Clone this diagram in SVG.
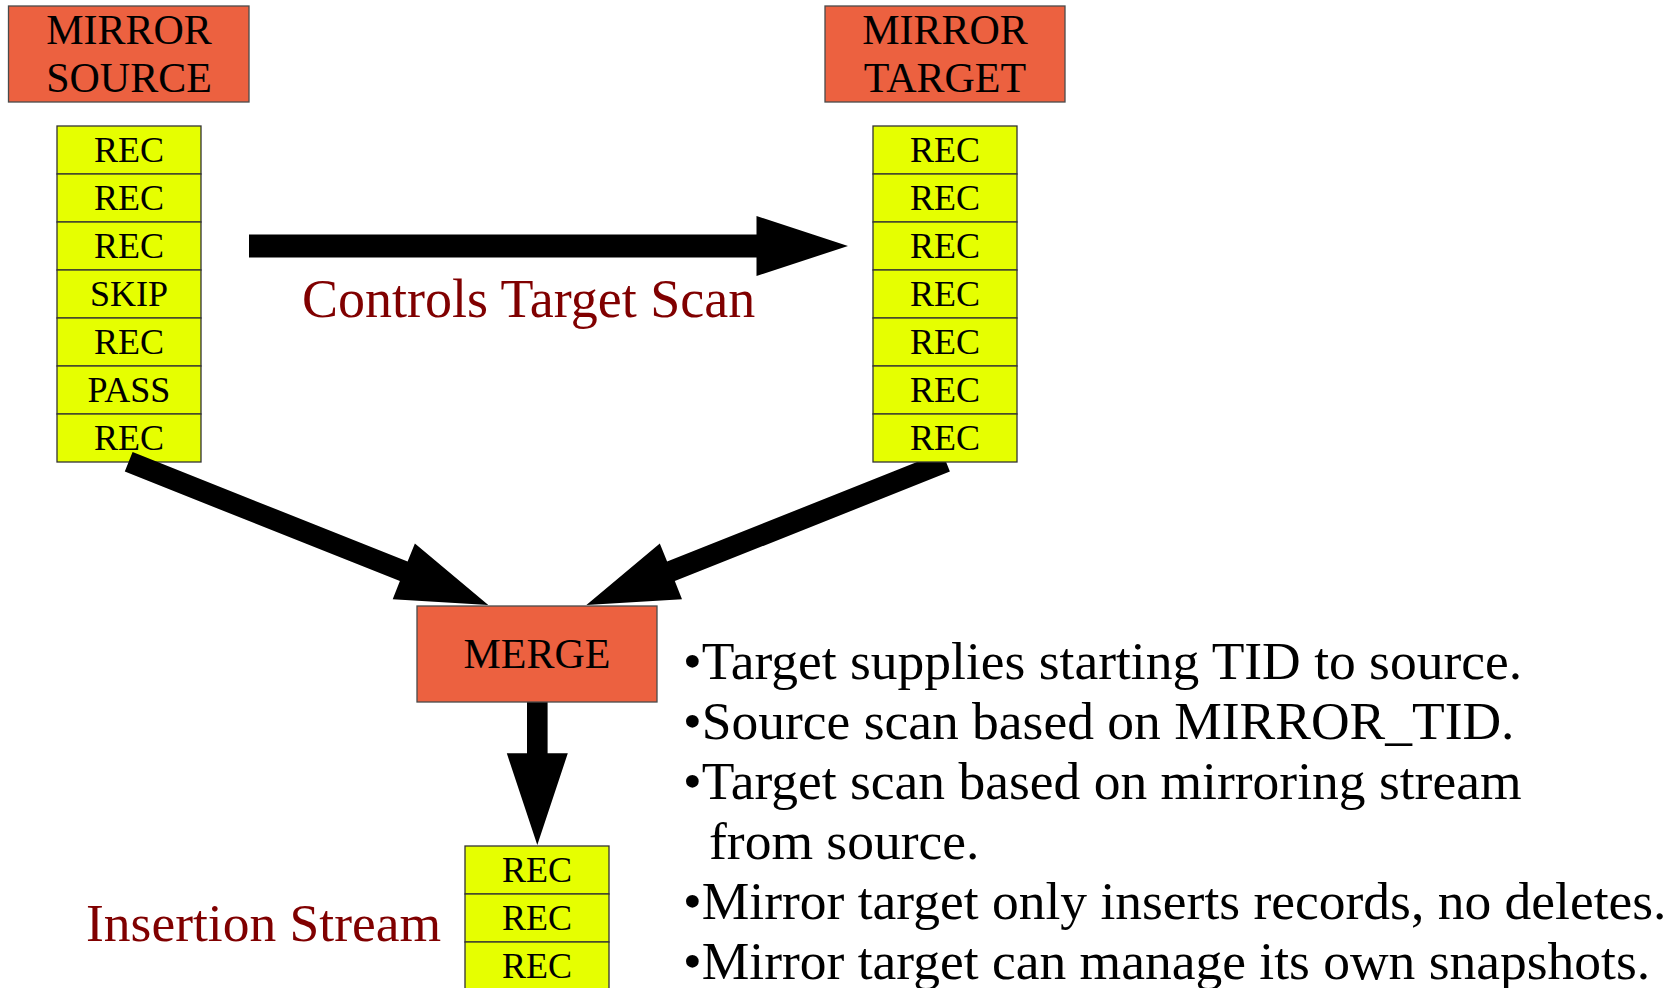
<svg xmlns="http://www.w3.org/2000/svg" width="1679" height="988" viewBox="0 0 1679 988">
  <style>
    .box { fill: #EC6140; stroke: #4a4a4a; stroke-width: 1.3; }
    .cell { fill: #E6FF00; stroke: #333; stroke-width: 1.3; }
    .t { font-family: "Liberation Serif", "Times New Roman", serif; fill: #000; }
    .hdr { font-size: 42px; text-anchor: middle; }
    .rec { font-size: 36px; text-anchor: middle; }
    .lbl { font-size: 53.5px; fill: #800000; }
    .note { font-size: 53.5px; }
    .arrow { fill: #000; }
  </style>
  <defs>
    <!-- one stack of seven record cells, 144 wide, 48 per row -->
    <g id="cells7">
      <rect class="cell" x="0" y="0" width="144" height="48"/>
      <rect class="cell" x="0" y="48" width="144" height="48"/>
      <rect class="cell" x="0" y="96" width="144" height="48"/>
      <rect class="cell" x="0" y="144" width="144" height="48"/>
      <rect class="cell" x="0" y="192" width="144" height="48"/>
      <rect class="cell" x="0" y="240" width="144" height="48"/>
      <rect class="cell" x="0" y="288" width="144" height="48"/>
    </g>
  </defs>
  <rect width="1679" height="988" fill="#fff"/>

  <!-- mirror source -->
  <g id="mirror-source">
    <rect class="box" x="8.5" y="6" width="240.5" height="96"/>
    <text class="t hdr" x="129" y="44">MIRROR</text>
    <text class="t hdr" x="129" y="92">SOURCE</text>
  </g>
  <g id="source-stack">
    <use href="#cells7" x="57" y="126"/>
    <text class="t rec" x="129" y="162">REC</text>
    <text class="t rec" x="129" y="210">REC</text>
    <text class="t rec" x="129" y="258">REC</text>
    <text class="t rec" x="129" y="306">SKIP</text>
    <text class="t rec" x="129" y="354">REC</text>
    <text class="t rec" x="129" y="402">PASS</text>
    <text class="t rec" x="129" y="450">REC</text>
  </g>

  <!-- connectors: block arrows -->
  <g id="connectors">
    <polygon class="arrow" points="249,234.5 756.5,234.5 756.5,216 848,246 756.5,276 756.5,257.5 249,257.5"/>
    <polygon class="arrow" points="132.6,452 407.6,561.6 414.9,543.5 488.3,605 392.7,599.2 399.9,581.1 124.8,471.6"/>
    <polygon class="arrow" points="942.1,452 667.1,561.6 659.8,543.5 586.4,605 682,599.2 674.8,581.1 949.9,471.6"/>
    <polygon class="arrow" points="527,702 527,753.3 506.8,753.3 537.3,845 567.8,753.3 547.6,753.3 547.6,702"/>
  </g>

  <!-- mirror target -->
  <g id="mirror-target">
    <rect class="box" x="825" y="6" width="240" height="96"/>
    <text class="t hdr" x="945" y="44">MIRROR</text>
    <text class="t hdr" x="945" y="92">TARGET</text>
  </g>
  <g id="target-stack">
    <use href="#cells7" x="873" y="126"/>
    <text class="t rec" x="945" y="162">REC</text>
    <text class="t rec" x="945" y="210">REC</text>
    <text class="t rec" x="945" y="258">REC</text>
    <text class="t rec" x="945" y="306">REC</text>
    <text class="t rec" x="945" y="354">REC</text>
    <text class="t rec" x="945" y="402">REC</text>
    <text class="t rec" x="945" y="450">REC</text>
  </g>

  <!-- merge -->
  <g id="merge">
    <rect class="box" x="417" y="606" width="240" height="96"/>
    <text class="t hdr" x="537" y="668">MERGE</text>
  </g>

  <!-- output stream -->
  <g id="insertion-stack">
    <rect class="cell" x="465" y="846" width="144" height="48"/>
    <rect class="cell" x="465" y="894" width="144" height="48"/>
    <rect class="cell" x="465" y="942" width="144" height="48"/>
    <text class="t rec" x="537" y="882">REC</text>
    <text class="t rec" x="537" y="930">REC</text>
    <text class="t rec" x="537" y="978">REC</text>
  </g>

  <!-- labels -->
  <g id="labels">
    <text class="t lbl" x="302" y="317" style="font-size:54px">Controls Target Scan</text>
    <text class="t lbl" x="86" y="941">Insertion Stream</text>
  </g>

  <!-- notes -->
  <g id="notes">
    <text class="t note" x="683" y="679">•Target supplies starting TID to source.</text>
    <text class="t note" x="683" y="739">•Source scan based on MIRROR_TID.</text>
    <text class="t note" x="683" y="799">•Target scan based on mirroring stream</text>
    <text class="t note" x="709" y="859">from source.</text>
    <text class="t note" x="683" y="919">•Mirror target only inserts records, no deletes.</text>
    <text class="t note" x="683" y="979">•Mirror target can manage its own snapshots.</text>
  </g>
</svg>
